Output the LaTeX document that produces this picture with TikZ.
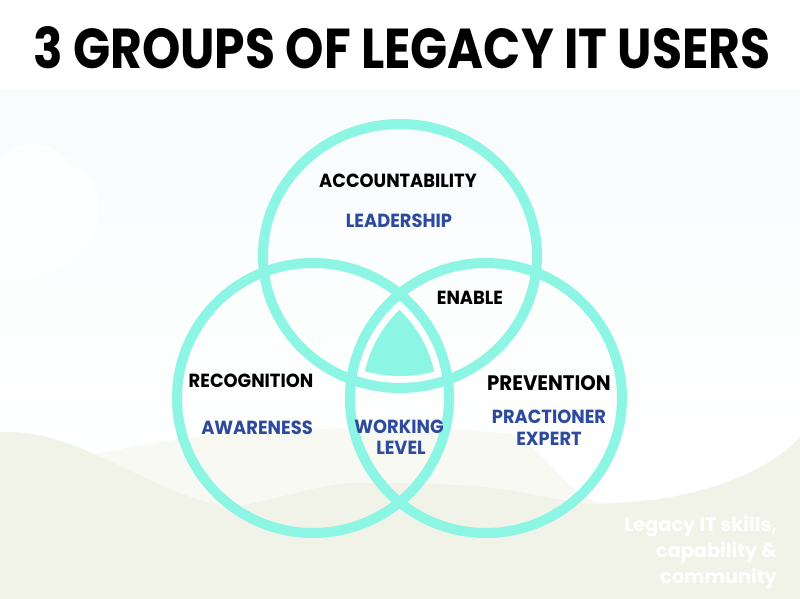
\documentclass[tikz,border=0pt]{standalone}
\usepackage{fontspec}
\setmainfont{Poppins}
\newfontfamily\geo{Poppins}[FakeStretch=0.94]
\definecolor{aqua}{HTML}{8CF5E4}
\definecolor{navy}{HTML}{2D4A9D}
\definecolor{bgblue}{HTML}{F8FCFD}
\definecolor{creamA}{HTML}{F2F3E8}
\definecolor{creamB}{HTML}{F8F9F2}
\begin{document}
\begin{tikzpicture}[x=1pt,y=-1pt,
  ring/.style={draw=aqua,line width=10pt},
  blk/.style={font=\geo\bfseries\fontsize{19}{21}\selectfont,text=black,inner sep=0pt,anchor=base},
  blu/.style={font=\geo\bfseries\fontsize{19}{21}\selectfont,text=navy,inner sep=0pt,anchor=base},
  note/.style={font=\bfseries\fontsize{19.3}{21}\selectfont,text=white,inner sep=0pt,anchor=base east},
]
\useasboundingbox (0,0) rectangle (800,599);
% background
\fill[white] (0,0) rectangle (800,599);
\shade[top color=bgblue, bottom color=white] (0,90) rectangle (800,470);
\fill[white!75!bgblue] (0,160) .. controls (10,138) and (60,138) .. (68,165)
  .. controls (90,170) and (102,192) .. (98,218)
  .. controls (95,262) and (40,282) .. (0,282) -- cycle;
% light band
\fill[creamB] (0,485) .. controls (100,440) and (250,428) .. (380,428)
  .. controls (500,428) and (600,440) .. (650,470) -- (650,599) -- (0,599) -- cycle;
% white hill right
\fill[white] (470,420) .. controls (540,425) and (560,495) .. (600,503)
  .. controls (700,500) and (770,470) .. (800,437) -- (800,420) -- cycle;
% dark cream
\fill[creamA] (0,432) .. controls (80,428) and (150,495) .. (230,507)
  .. controls (280,500) and (320,483) .. (357,483)
  .. controls (420,483) and (480,484) .. (520,492)
  .. controls (560,500) and (580,504) .. (600,504)
  .. controls (700,502) and (770,470) .. (800,437)
  -- (800,599) -- (0,599) -- cycle;
% title
\node[inner sep=0pt,anchor=base west] (title) at (33,69)
  {\resizebox{737pt}{42pt}{\bfseries 3 GROUPS OF LEGACY IT USERS}};
% center triangle
\begin{scope}
\clip (400,256) ellipse [x radius=125pt, y radius=120pt];
\clip (313,398) ellipse [x radius=124pt, y radius=123pt];
\fill[aqua] (486,398) ellipse [x radius=124pt, y radius=123pt];
\end{scope}
% rings
\draw[ring] (400,256) ellipse [x radius=137pt, y radius=132pt];
\draw[ring] (313,398) ellipse [x radius=136pt, y radius=135pt];
\draw[ring] (486,398) ellipse [x radius=136pt, y radius=135pt];
% labels
\node[blk] (acc) at (398,187) {ACCOUNTABILITY};
\node[blu] (lead) at (399,227) {LEADERSHIP};
\node[blk] (enab) at (470,304) {ENABLE};
\node[blk] (reco) at (251,387) {RECOGNITION};
\node[blu] (awar) at (257,434) {AWARENESS};
\node[blk,font=\geo\bfseries\fontsize{21}{23}\selectfont] (prev) at (549,390) {PREVENTION};
\node[blu] (prac) at (549,423) {PRACTIONER};
\node[blu] (expe) at (549,445) {EXPERT};
\node[blu] (work) at (399,433) {WORKING};
\node[blu] (leve) at (401,454) {LEVEL};
\node[note] (n1) at (777,531) {Legacy IT skills,};
\node[note] (n2) at (777,557) {capability \&};
\node[note] (n3) at (777,583) {community};
\end{tikzpicture}
\end{document}
